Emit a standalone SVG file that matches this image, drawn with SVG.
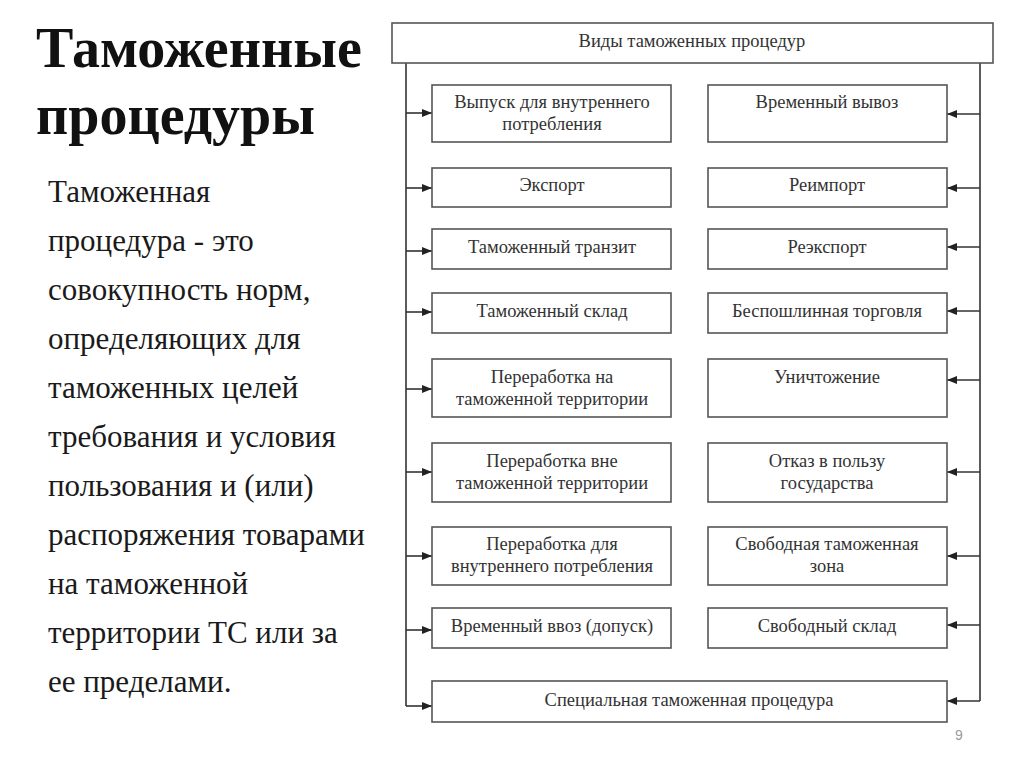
<svg xmlns="http://www.w3.org/2000/svg" width="1024" height="767" viewBox="0 0 1024 767">
<style>
.title{font-family:"Liberation Serif","Times New Roman",serif;font-weight:bold;font-size:56px;fill:#111}
.body{font-family:"Liberation Serif","Times New Roman",serif;font-size:31px;fill:#1a1a1a}
.box{fill:#fff;stroke:#555;stroke-width:1.6}
.lbl{font-family:"Liberation Serif","Times New Roman",serif;font-size:18.5px;fill:#333;text-anchor:middle}
.conn{stroke:#333;stroke-width:1.6;fill:none}
.pg{font-family:"Liberation Sans",Arial,sans-serif;font-size:14px;fill:#999}
</style>
<defs>
<marker id="ah" markerUnits="userSpaceOnUse" viewBox="0 0 10 8" markerWidth="10" markerHeight="8" refX="10" refY="4" orient="auto">
<path d="M0,0 L10,4 L0,8 z" fill="#222"/>
</marker>
</defs>
<rect width="1024" height="767" fill="#fff"/>
<g id="title">
<text class="title" x="36" y="67">Таможенные</text>
<text class="title" x="36" y="134">процедуры</text>
</g>
<g id="definition">
<text class="body" x="48" y="202">Таможенная</text>
<text class="body" x="48" y="251">процедура - это</text>
<text class="body" x="48" y="300">совокупность норм,</text>
<text class="body" x="48" y="349">определяющих для</text>
<text class="body" x="48" y="398">таможенных целей</text>
<text class="body" x="48" y="447">требования и условия</text>
<text class="body" x="48" y="496">пользования и (или)</text>
<text class="body" x="48" y="545">распоряжения товарами</text>
<text class="body" x="48" y="594">на таможенной</text>
<text class="body" x="48" y="643">территории ТС или за</text>
<text class="body" x="48" y="692">ее пределами.</text>
</g>
<g id="connectors">
<polyline class="conn" points="406,63 406,706"/>
<polyline class="conn" points="980,63 980,701"/>
<line class="conn" x1="406" y1="113" x2="432" y2="113" marker-end="url(#ah)"/>
<line class="conn" x1="406" y1="188" x2="432" y2="188" marker-end="url(#ah)"/>
<line class="conn" x1="406" y1="251" x2="432" y2="251" marker-end="url(#ah)"/>
<line class="conn" x1="406" y1="312" x2="432" y2="312" marker-end="url(#ah)"/>
<line class="conn" x1="406" y1="389" x2="432" y2="389" marker-end="url(#ah)"/>
<line class="conn" x1="406" y1="472" x2="432" y2="472" marker-end="url(#ah)"/>
<line class="conn" x1="406" y1="556" x2="432" y2="556" marker-end="url(#ah)"/>
<line class="conn" x1="406" y1="630" x2="432" y2="630" marker-end="url(#ah)"/>
<line class="conn" x1="406" y1="706" x2="432" y2="706" marker-end="url(#ah)"/>
<line class="conn" x1="980" y1="114" x2="947" y2="114" marker-end="url(#ah)"/>
<line class="conn" x1="980" y1="188" x2="947" y2="188" marker-end="url(#ah)"/>
<line class="conn" x1="980" y1="247" x2="947" y2="247" marker-end="url(#ah)"/>
<line class="conn" x1="980" y1="311" x2="947" y2="311" marker-end="url(#ah)"/>
<line class="conn" x1="980" y1="380" x2="947" y2="380" marker-end="url(#ah)"/>
<line class="conn" x1="980" y1="472" x2="947" y2="472" marker-end="url(#ah)"/>
<line class="conn" x1="980" y1="556" x2="947" y2="556" marker-end="url(#ah)"/>
<line class="conn" x1="980" y1="625" x2="947" y2="625" marker-end="url(#ah)"/>
<line class="conn" x1="980" y1="701" x2="947" y2="701" marker-end="url(#ah)"/>
</g>
<g id="header"><rect class="box" x="392" y="23" width="601" height="40"/><text class="lbl" x="692" y="47">Виды таможенных процедур</text></g>
<g id="n-vypusk"><rect class="box" x="432" y="85" width="239" height="57"/><text class="lbl" x="552" y="108">Выпуск для внутреннего</text><text class="lbl" x="552" y="130">потребления</text></g>
<g id="n-vyvoz"><rect class="box" x="708" y="85" width="239" height="57"/><text class="lbl" x="827" y="108">Временный вывоз</text></g>
<g id="n-export"><rect class="box" x="432" y="168" width="239" height="39"/><text class="lbl" x="552" y="191">Экспорт</text></g>
<g id="n-reimport"><rect class="box" x="708" y="168" width="239" height="39"/><text class="lbl" x="827" y="191">Реимпорт</text></g>
<g id="n-tranzit"><rect class="box" x="432" y="229" width="239" height="40"/><text class="lbl" x="552" y="253">Таможенный транзит</text></g>
<g id="n-reexport"><rect class="box" x="708" y="229" width="239" height="40"/><text class="lbl" x="827" y="253">Реэкспорт</text></g>
<g id="n-sklad"><rect class="box" x="432" y="293" width="239" height="40"/><text class="lbl" x="552" y="317">Таможенный склад</text></g>
<g id="n-besposhl"><rect class="box" x="708" y="293" width="239" height="40"/><text class="lbl" x="827" y="317">Беспошлинная торговля</text></g>
<g id="n-pererab-na"><rect class="box" x="432" y="359" width="239" height="58"/><text class="lbl" x="552" y="383">Переработка на</text><text class="lbl" x="552" y="405">таможенной территории</text></g>
<g id="n-unichtozh"><rect class="box" x="708" y="359" width="239" height="58"/><text class="lbl" x="827" y="383">Уничтожение</text></g>
<g id="n-pererab-vne"><rect class="box" x="432" y="443" width="239" height="59"/><text class="lbl" x="552" y="467">Переработка вне</text><text class="lbl" x="552" y="489">таможенной территории</text></g>
<g id="n-otkaz"><rect class="box" x="708" y="443" width="239" height="59"/><text class="lbl" x="827" y="467">Отказ в пользу</text><text class="lbl" x="827" y="489">государства</text></g>
<g id="n-pererab-dlya"><rect class="box" x="432" y="527" width="239" height="58"/><text class="lbl" x="552" y="550">Переработка для</text><text class="lbl" x="552" y="572">внутреннего потребления</text></g>
<g id="n-svz"><rect class="box" x="708" y="527" width="239" height="58"/><text class="lbl" x="827" y="550">Свободная таможенная</text><text class="lbl" x="827" y="572">зона</text></g>
<g id="n-vvoz"><rect class="box" x="432" y="608" width="239" height="40"/><text class="lbl" x="552" y="632">Временный ввоз (допуск)</text></g>
<g id="n-svsklad"><rect class="box" x="708" y="608" width="239" height="40"/><text class="lbl" x="827" y="632">Свободный склад</text></g>
<g id="n-special"><rect class="box" x="432" y="681" width="515" height="41"/><text class="lbl" x="689" y="706">Специальная таможенная процедура</text></g>
<text class="pg" x="955" y="740">9</text>
</svg>
